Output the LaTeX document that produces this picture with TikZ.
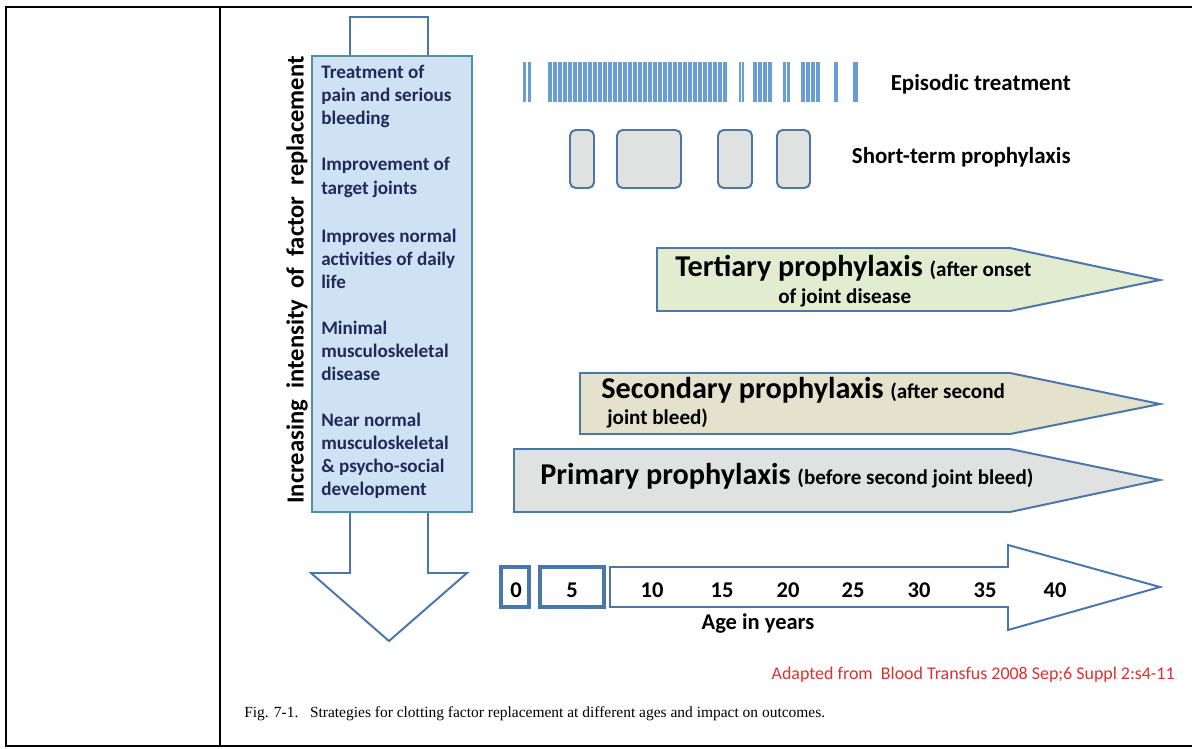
\documentclass[tikz,border=0pt]{standalone}
\usepackage{fontspec}
\setmainfont{Carlito}
\newfontfamily\capfont{Liberation Serif}
\usetikzlibrary{positioning,calc}

\definecolor{boxblue}{RGB}{207,226,243}
\definecolor{boxedge}{RGB}{78,146,170}
\definecolor{steel}{RGB}{74,118,168}
\definecolor{navy}{RGB}{31,42,90}
\definecolor{barblue}{RGB}{104,158,211}
\definecolor{tergreen}{RGB}{226,236,208}
\definecolor{secbeige}{RGB}{228,225,205}
\definecolor{prigray}{RGB}{224,226,225}
\definecolor{srcred}{RGB}{222,48,48}

\newcommand{\smalltxt}{\fontsize{15}{18}\selectfont}

\begin{document}
\begin{tikzpicture}[x=0.025cm, y=-0.025cm,
	outline/.style={draw=steel, line width=1.4pt},
	goal/.style={anchor=west, align=left, inner sep=0pt, text=navy, font=\bfseries\fontsize{13.6}{16.4}\selectfont},
	label/.style={anchor=east, inner sep=0pt, font=\bfseries\fontsize{16.3}{19}\selectfont},
	big/.style={anchor=west, inner sep=0pt, font=\bfseries\fontsize{21.5}{25}\selectfont},
	sub/.style={anchor=west, inner sep=0pt, font=\bfseries\smalltxt},
	age/.style={inner sep=0pt, font=\bfseries\fontsize{16}{19}\selectfont},
	shortbox/.style={outline, fill=prigray, rounded corners=4pt}]
	\useasboundingbox (0,0) rectangle (1192,749);

	\draw[line width=1.4pt] (1192,7) -- (6,7) -- (6,746) -- (1192,746);
	\draw[line width=1.4pt] (220,7) -- (220,746);

	\draw[outline, fill=white] (350,17) -- (428,17) -- (428,573) -- (467,573) -- (389,641) -- (311,573) -- (350,573) -- cycle;
	\draw[draw=boxedge, fill=boxblue, line width=2.1pt] (312,56) rectangle (472,512);

	\begin{scope}
		\node[goal] (treat) at (321,96.5) {Treatment of\\pain and serious\\bleeding};
		\node[goal] (target) at (321,177.5) {Improvement of\\target joints};
		\node[goal] (daily) at (321,259) {Improves normal\\activities of daily\\life};
		\node[goal] (minimal) at (321,351) {Minimal\\musculoskeletal\\disease};
		\node[goal] (nearnormal) at (321,455.5) {Near normal\\musculoskeletal\\\& psycho-social\\development};
	\end{scope}

	\node[rotate=90, inner sep=0pt, font=\bfseries\fontsize{17.5}{21}\selectfont] (intensity) at (297,280) {Increasing\ \ intensity\ \ of\ \ factor\ \ replacement};

	\foreach \x in {0,...,35}
		\fill[barblue] ({548+5*\x},62) rectangle +(3.5,40);
	\foreach \x/\w in {523/3, 528/3, 739/2, 742/2, 753/3.5, 758/3.5, 763/3.5, 768/3.5, 783/2.5, 787/2.5, 801/3.5, 806/3.5, 811/3.5, 816/3.5, 834/4, 853/4.5}
		\fill[barblue] (\x,62) rectangle +(\w,40);

	\draw[shortbox] (570,130) rectangle (594,188);
	\draw[shortbox] (617,130) rectangle (681,188);
	\draw[shortbox] (718,130) rectangle (752,188);
	\draw[shortbox] (777,130) rectangle (810,188);

	\node[label] (episodic) at (1071,84) {Episodic treatment};
	\node[label] (shortterm) at (1071,157) {Short-term prophylaxis};

	\draw[outline, fill=tergreen] (657,248) -- (1010,248) -- (1160,280) -- (1010,311) -- (657,311) -- cycle;
	\node[big] (tertiary) at (675,268) {Tertiary prophylaxis {\smalltxt(after onset}};
	\node[sub] (tertiary2) at (778,298) {of joint disease};

	\draw[outline, fill=secbeige] (580,373) -- (1010,373) -- (1160,404) -- (1010,434) -- (580,434) -- cycle;
	\node[big] (secondary) at (601,390) {Secondary prophylaxis {\smalltxt(after second}};
	\node[sub] (secondary2) at (607,418) {joint bleed)};

	\draw[outline, fill=prigray] (514,449) -- (1010,449) -- (1160,480) -- (1010,512) -- (514,512) -- cycle;
	\node[big] (primary) at (540,476) {Primary prophylaxis {\smalltxt(before second joint bleed)}};

	\draw[outline] (610,567) -- (1008,567) -- (1008,545) -- (1160,587) -- (1008,630) -- (1008,607) -- (610,607) -- cycle;
	\draw[outline, line width=2.2pt] (501,567) rectangle (529,607);
	\draw[outline, line width=2.2pt] (540,567) rectangle (604,607);
	\node[age] (a0) at (516,590) {0};
	\node[age] (a5) at (572,590) {5};
	\foreach \n/\x in {10/652, 15/722, 20/788, 25/853, 30/919, 35/985, 40/1055}
		\node[age] (a\n) at (\x,590) {\n};
	\node[age] (ageyears) at (758,624) {Age in years};

	\node[anchor=east, inner sep=0pt, text=srcred, font=\fontsize{12.75}{15}\selectfont] (source) at (1175,675) {Adapted from\ \ Blood Transfus 2008 Sep;6 Suppl 2:s4-11};
	\node[anchor=west, inner sep=0pt, font=\capfont\fontsize{11}{13}\selectfont] (caption) at (244,714) {Fig. 7-1.\ \ \ Strategies for clotting factor replacement at different ages and impact on outcomes.};
\end{tikzpicture}
\end{document}
